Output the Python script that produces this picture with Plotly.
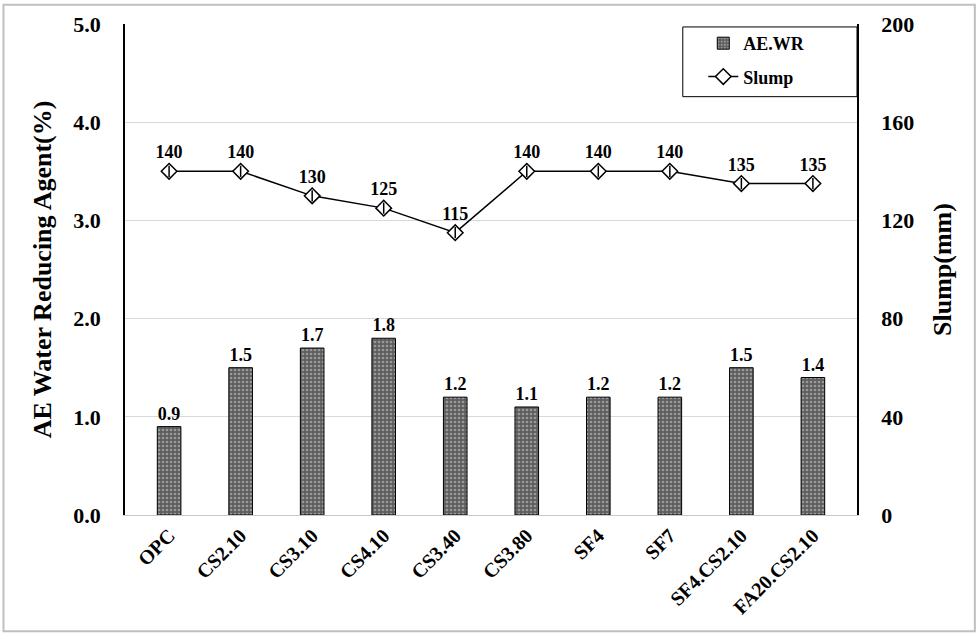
import plotly.graph_objects as go

mixes = ["OPC", "CS2.10", "CS3.10", "CS4.10", "CS3.40", "CS3.80",
         "SF4", "SF7", "SF4.CS2.10", "FA20.CS2.10"]
ae_wr = [0.9, 1.5, 1.7, 1.8, 1.2, 1.1, 1.2, 1.2, 1.5, 1.4]
slump = [140, 140, 130, 125, 115, 140, 140, 140, 135, 135]

FONT = "Liberation Serif"

fig = go.Figure()

fig.add_trace(go.Bar(
    x=mixes, y=ae_wr, name="<b>AE.WR</b>",
    legendgroup="a",
    width=0.33,
    marker=dict(
        color="#636363",
        line=dict(color="black", width=1),
        pattern=dict(shape=".", fgcolor="#d4d4d4", bgcolor="#5e5e5e",
                     size=4, solidity=0.35),
    ),
    text=[f"{v:.1f}" for v in ae_wr],
    texttemplate="<b>%{text}</b>",
    textposition="outside",
    textfont=dict(family=FONT, size=18, color="black"),
    cliponaxis=False,
))

fig.add_trace(go.Scatter(
    x=mixes, y=slump, name="<b>Slump</b>", yaxis="y2",
    legendgroup="b",
    mode="lines+markers+text",
    line=dict(color="black", width=1.5),
    marker=dict(symbol="diamond", size=12, color="white",
                line=dict(color="black", width=1.5)),
    text=[str(v) for v in slump],
    texttemplate="<b>%{text}</b>",
    textposition="top center",
    textfont=dict(family=FONT, size=18, color="black"),
))

# vertical stroke inside each slump diamond
fig.add_trace(go.Scatter(
    x=mixes, y=slump, yaxis="y2", mode="markers",
    legendgroup="b", showlegend=False, hoverinfo="skip",
    marker=dict(symbol="line-ns", size=8,
                line=dict(color="black", width=1.5)),
))

fig.update_layout(
    width=978, height=640,
    margin=dict(l=125, r=121, t=22, b=125),
    paper_bgcolor="white", plot_bgcolor="white",
    font=dict(family=FONT, color="black"),
    bargap=0.67,
    showlegend=True,
    legend=dict(
        x=0.79, y=0.998, xanchor="left", yanchor="top",
        borderwidth=0, bgcolor="rgba(0,0,0,0)",
        font=dict(family=FONT, size=18, color="black"),
        itemwidth=30, tracegroupgap=7, traceorder="grouped",
    ),
    xaxis=dict(
        tickangle=-45,
        tickfont=dict(family=FONT, size=20, color="black"),
        showline=True, linecolor="#c8c8c8", linewidth=1,
        ticks="",
    ),
    yaxis=dict(
        range=[0, 5], dtick=1, tickformat=".1f",
        title=dict(text="<b>AE Water Reducing Agent(%)</b>",
                   font=dict(family=FONT, size=26), standoff=14),
        tickfont=dict(family=FONT, size=22, color="black"),
        ticklabelstandoff=18,
        showgrid=True, gridcolor="#d9d9d9", gridwidth=1,
        showline=True, linecolor="black", linewidth=1.5,
        zeroline=False, ticks="",
    ),
    yaxis2=dict(
        range=[0, 200], dtick=40, overlaying="y", side="right",
        title=dict(text="<b>Slump(mm)</b>",
                   font=dict(family=FONT, size=26), standoff=20),
        tickfont=dict(family=FONT, size=22, color="black"),
        ticklabelstandoff=18,
        showgrid=False,
        showline=True, linecolor="black", linewidth=1.5,
        zeroline=False, ticks="",
    ),
    shapes=[
        # outer frame
        dict(type="rect", xref="paper", yref="paper",
             x0=-0.166, x1=1.161, y0=-0.237, y1=1.039,
             line=dict(color="#c0c0c0", width=2)),
        # legend box
        dict(type="rect", xref="paper", yref="paper",
             x0=0.762, x1=1.0, y0=0.852, y1=0.994,
             line=dict(color="black", width=1)),
    ],
)

fig.update_xaxes(tickprefix="<b>", ticksuffix="</b>")
fig.update_yaxes(tickprefix="<b>", ticksuffix="</b>")

fig.write_html("out.html", config={"displayModeBar": False},
               post_script="document.body.style.margin='0';")
